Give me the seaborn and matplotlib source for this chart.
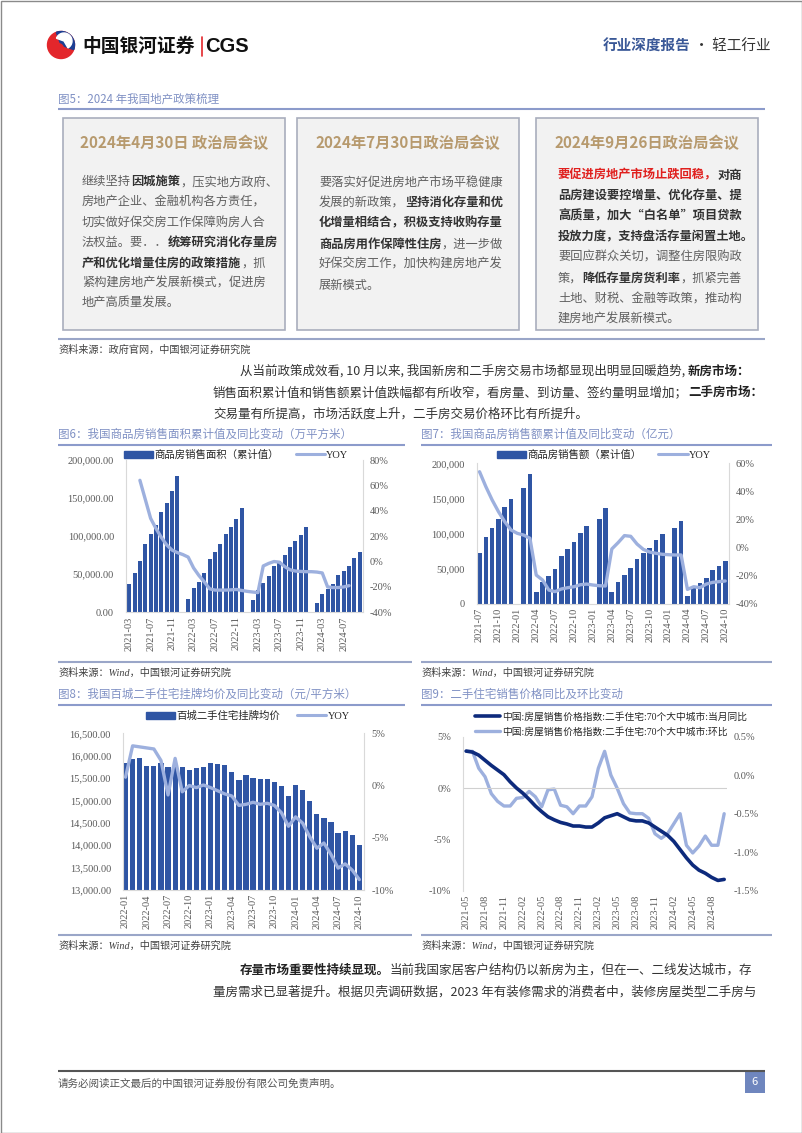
import numpy as np
import pandas as pd
import matplotlib
matplotlib.use('Agg')
import matplotlib.pyplot as plt
import seaborn as sns
from matplotlib.lines import Line2D
from matplotlib.patches import Patch, Rectangle, Circle, Wedge

CJK = 'Noto Sans CJK SC'
SERIF = ['Liberation Serif', CJK]

BAR = '#2F55A4'
LIGHT = '#9DB0DE'
NAVY = '#0D2A7C'
TICK = '#595959'
TITLE_C = '#8091C4'
RULE_C = '#8C9BCB'

# ---- 图6 商品房销售面积累计值 (万平方米) / 同比 (%) ----
months6 = [p.strftime('%Y-%m') for p in pd.period_range('2021-03', '2024-10', freq='M')]
area6 = [37200, 51200, 67400, 89300, 102400, 114700, 131300, 144000, 159300, 179400,
         np.nan, 17100, 32400, 40300, 52100, 70000, 79200, 89300, 102400, 112000, 122100, 136500,
         np.nan, 16200, 28900, 38900, 47700, 60800, 67800, 75300, 85300, 93200, 101100, 112500,
         np.nan, 12700, 24100, 30200, 37200, 48600, 54700, 61300, 71300, 78800]
yoy6 = [np.nan, np.nan,
        64, 49, 34, 26, 19, 13, 9, 7, 5.5, 3.5,
        -5, -11, -16, -21.5, -22.5, -22.5, -22.5, -22.3, -22, -22.8,
        -23.5, -24, -24.5, -3.5, -1.5, 0, -0.5, -4, -6.5, -7.5,
        -7.8, -8, -8, -8.3, -9, -20, -20.5, -20.5, -20, -19,
        np.nan, np.nan]

# ---- 图7 商品房销售额累计值 (亿元) / 同比 (%) ----
months7 = [p.strftime('%Y-%m') for p in pd.period_range('2021-07', '2024-10', freq='M')]
sales7 = [71700, 94500, 108300, 121100, 137300, 149600, np.nan,
          164400, 184800, 16200, 30400, 39000, 49900, 67900, 77400, 87400, 101200, 110600, np.nan,
          120200, 135900, 16200, 31400, 40900, 50800, 64100, 71700, 79800, 90700, 99300, np.nan,
          107400, 118300, 11400, 21900, 29000, 36600, 48000, 54200, 60800]
yoy7 = [54, 43.4, 33.9, 25.6, 18.4, 12.5, 10.1, 8.9, 6.6, -19.6,
        -23.1, -30.3, -31.4, -29.5, -28.6, -27.9, -26.5, -26, -26.7, -27.2,
        -27.4, -1, 3.5, 8.5, 8, 2.5, -1.3, -3.2, -4.1, -4.8,
        -5.1, -5.3, -5.3, -29.8, -27.9, -28.6, -26, -24.8, -24.3, -23.8]

# ---- 图8 百城二手住宅挂牌均价 (元/平方米) / 同比 (%) ----
months8 = [p.strftime('%Y-%m') for p in pd.period_range('2022-01', '2024-10', freq='M')]
price8 = [15845, 15919, 15949, 15763, 15763, 15837, 15755, 15745, 15740, 15681, 15725, 15740,
          15830, 15822, 15792, 15629, 15450, 15562, 15510, 15487, 15472, 15413, 15323, 15107,
          15346, 15227, 14996, 14690, 14609, 14519, 14281, 14318, 14236, 14013]
yoy8 = [0.8, 3.8, 3.7, 3.6, 3.5, 2.4, -0.9, 2.6, -0.6, 0.0, -0.2, 0.05,
        -0.2, -0.5, -0.8, -1.0, -1.9, -1.8, -1.6, -1.8, -1.7, -1.9, -2.6, -3.9,
        -3.0, -3.6, -4.9, -6.0, -5.5, -6.6, -7.9, -7.5, -8.1, -9.0]

# ---- 图9 二手住宅价格 同比 (%) / 环比 (%) ----
months9 = [p.strftime('%Y-%m') for p in pd.period_range('2021-05', '2024-10', freq='M')]
yoy9 = [3.6, 3.5, 3.2, 2.7, 2.2, 1.75, 1.3, 0.6, 0.0, -0.5,
        -1.1, -1.75, -2.3, -2.8, -3.1, -3.35, -3.5, -3.7, -3.7, -3.8,
        -3.8, -3.4, -2.9, -2.7, -2.5, -2.8, -3.1, -3.2, -3.2, -3.4,
        -3.8, -4.2, -4.6, -5.2, -6.0, -6.8, -7.5, -8.0, -8.3, -8.7,
        -9.0, -8.9]
mom9 = [0.31, 0.31, 0.09, -0.02, -0.24, -0.34, -0.40, -0.40, -0.30, -0.29,
        -0.21, -0.28, -0.41, -0.19, -0.18, -0.39, -0.41, -0.50, -0.40, -0.40,
        -0.28, 0.09, 0.31, 0.0, -0.17, -0.37, -0.49, -0.50, -0.50, -0.56,
        -0.76, -0.82, -0.76, -0.63, -0.50, -0.91, -1.01, -0.92, -0.79, -0.91,
        -0.91, -0.50]

# ---- 图5 政策梳理 文本 (n 普通, b 加粗, r 红色) ----
box_titles = ['2024年4月30日 政治局会议', '2024年7月30日政治局会议', '2024年9月26日政治局会议']
box_lines = [
    [[('继续坚持', 'n'), ('因城施策', 'b'), ('，压实地方政府、', 'n')],
     [('房地产企业、金融机构各方责任，', 'n')],
     [('切实做好保交房工作保障购房人合', 'n')],
     [('法权益。要．．', 'n'), ('统筹研究消化存量房', 'b')],
     [('产和优化增量住房的政策措施', 'b'), ('，抓', 'n')],
     [('紧构建房地产发展新模式，促进房', 'n')],
     [('地产高质量发展。', 'n')]],
    [[('要落实好促进房地产市场平稳健康', 'n')],
     [('发展的新政策，', 'n'), ('坚持消化存量和优', 'b')],
     [('化增量相结合，积极支持收购存量', 'b')],
     [('商品房用作保障性住房', 'b'), ('，进一步做', 'n')],
     [('好保交房工作，加快构建房地产发', 'n')],
     [('展新模式。', 'n')]],
    [[('要促进房地产市场止跌回稳，', 'r'), ('对商', 'b')],
     [('品房建设要控增量、优化存量、提', 'b')],
     [('高质量，加大“白名单”项目贷款', 'b')],
     [('投放力度，支持盘活存量闲置土地。', 'b')],
     [('要回应群众关切，调整住房限购政', 'n')],
     [('策，', 'n'), ('降低存量房货利率', 'b'), ('，抓紧完善', 'n')],
     [('土地、财税、金融等政策，推动构', 'n')],
     [('建房地产发展新模式。', 'n')]],
]
para1 = [
    [('从当前政策成效看, 10 月以来, 我国新房和二手房交易市场都显现出明显回暖趋势, ', 'p'), ('新房市场：', 'pb')],
    [('销售面积累计值和销售额累计值跌幅都有所收窄，看房量、到访量、签约量明显增加；', 'p'), ('二手房市场：', 'pb')],
    [('交易量有所提高，市场活跃度上升，二手房交易价格环比有所提升。', 'p')],
]
para2 = [
    [('存量市场重要性持续显现。', 'pb'), ('当前我国家居客户结构仍以新房为主，但在一、二线发达城市，存', 'p')],
    [('量房需求已显著提升。根据贝壳调研数据，2023 年有装修需求的消费者中，装修房屋类型二手房与', 'p')],
]

STYLES = {'n': ('#606060', 'normal'), 'b': ('#333333', 'bold'), 'r': ('#E0201E', 'bold'),
          'p': ('#333333', 'normal'), 'pb': ('#222222', 'bold')}

sns.set_theme(style='white')
plt.rcParams['font.family'] = [CJK, 'DejaVu Sans']
plt.rcParams['axes.unicode_minus'] = False

fig = plt.figure(figsize=(8.02, 11.33), dpi=100)
page = fig.add_axes([0, 0, 1, 1], zorder=0)
page.set_xlim(0, 802)
page.set_ylim(1133, 0)
page.axis('off')
rend = fig.canvas.get_renderer()


def rich(x, y, segs, size=9.0):
    for txt, kind in segs:
        color, weight = STYLES[kind]
        t = page.text(x, y, txt, fontsize=size, color=color, fontweight=weight, va='center', ha='left')
        x += t.get_window_extent(renderer=rend).width


def hrule(x0, x1, y, color=RULE_C, lw=1.5):
    page.plot([x0, x1], [y, y], color=color, lw=lw, solid_capstyle='butt')


def px_axes(x0, y0, x1, y1):
    return fig.add_axes([x0 / 802, 1 - y1 / 1133, (x1 - x0) / 802, (y1 - y0) / 1133], zorder=2)


# page frame
page.add_patch(Rectangle((0.5, 0.5), 801, 1132, fill=False, ec='#8a8a8a', lw=1))

# header logo
page.add_patch(Circle((61, 45), 13.5, color='#E3262B'))
page.add_patch(Wedge((61, 45), 13.5, 250, 20, color='#1D3F93'))
page.add_patch(Wedge((64, 41), 8, 200, 60, color='white'))
page.add_patch(Circle((58, 49), 5.5, color='#E3262B'))
page.text(82, 46, '中国银河证券', fontsize=13.5, fontweight='bold', color='#111111', va='center')
page.plot([201.5, 201.5], [37, 56], color='#E3262B', lw=1.2)
page.text(205, 46, 'CGS', fontsize=14.5, fontweight='bold', family='Liberation Sans', color='#111111', va='center')
t = page.text(603, 46, '行业深度报告', fontsize=10.5, fontweight='bold', color='#3A5897', va='center')
xx = 603 + t.get_window_extent(renderer=rend).width
page.text(xx, 46, ' · 轻工行业', fontsize=10.5, color='#333333', va='center')

# 图5
page.text(58, 99, '图5：2024 年我国地产政策梳理', fontsize=8.3, color=TITLE_C, va='center')
hrule(58, 765, 108.5)
boxes = [(63, 285, 82, 181.7, 20.3), (297, 519, 319, 182, 20.6), (536, 758, 558, 175, 20.6)]
for (bx0, bx1, tx, ty, dy), title, lines in zip(boxes, box_titles, box_lines):
    page.add_patch(Rectangle((bx0, 118), bx1 - bx0, 212, fc='#F2F2F2', ec='#A9AEBD', lw=1.2))
    page.text((bx0 + bx1) / 2, 143, title, fontsize=11, fontweight='bold', color='#B79A6E',
              ha='center', va='center')
    for i, segs in enumerate(lines):
        rich(tx, ty + i * dy, segs, size=8.8)
hrule(58, 765, 339, color='#9AA6C8', lw=1.5)
page.text(58, 350, '资料来源：政府官网，中国银河证券研究院', fontsize=7.3, color='#404040', va='center')

for i, segs in enumerate(para1):
    rich(240 if i == 0 else 213, 371 + i * 21.5, segs, size=9)


def finish(ax, ax2, xlim, left_ticks, left_fmt, right_ticks, right_fmt, shown, labels,
           left_lim, right_lim, bottom=True, right=True):
    ax.set_xlim(*xlim)
    ax.set_ylim(*left_lim)
    ax2.set_ylim(*right_lim)
    ax.set_yticks(left_ticks)
    ax.set_yticklabels([left_fmt(v) for v in left_ticks], family=SERIF, fontsize=7.5, color=TICK)
    ax2.set_yticks(right_ticks)
    ax2.set_yticklabels([right_fmt(v) for v in right_ticks], family=SERIF, fontsize=7.5, color=TICK)
    ax.set_xticks(shown)
    ax.set_xticklabels(labels, rotation=90, family=SERIF, fontsize=7.5, color=TICK)
    ax.tick_params(axis='y', length=0, pad=8.5)
    ax.tick_params(axis='x', length=0, pad=3)
    ax2.tick_params(axis='y', length=0, pad=5)
    ax.set_xlabel('')
    ax.set_ylabel('')
    ax2.set_ylabel('')
    ax.patch.set_alpha(0)
    for s in ['top', 'right']:
        ax.spines[s].set_visible(False)
    for s in ['top', 'left', 'bottom']:
        ax2.spines[s].set_visible(False)
    ax.spines['left'].set_color('#D9D9D9')
    ax.spines['bottom'].set_color('#D9D9D9')
    ax.spines['bottom'].set_visible(bottom)
    ax2.spines['right'].set_color('#D9D9D9')
    ax2.spines['right'].set_visible(right)
    for s in ax.spines.values():
        s.set_linewidth(0.8)
    ax2.spines['right'].set_linewidth(0.8)


def bar_legend(label, cx, cy):
    handles = [Patch(color=BAR), Line2D([], [], color=LIGHT, lw=2.2)]
    fig.legend(handles, [label, 'YOY'], loc='center', bbox_to_anchor=(cx / 802, 1 - cy / 1133),
               ncol=2, frameon=False, prop={'family': SERIF, 'size': 7.5}, handlelength=2.8,
               handleheight=0.75, handletextpad=0.15, columnspacing=1.6)


def chart_head(x0, x1, y, text):
    page.text(x0, y, text, fontsize=8.3, color=TITLE_C, va='center')
    hrule(x0, x1, y + 11)


def source(x0, x1, y):
    hrule(x0, x1, y, color='#9AA6C8', lw=1.5)
    page.text(x0, y + 11, '资料来源：Wind，中国银河证券研究院', fontsize=7.3, color='#404040',
              va='center', family=SERIF, style='italic')


pct = lambda v: f'{v:.0f}%'
bar_kw = dict(color=BAR, saturation=1, width=0.74, errorbar=None, linewidth=0)

# 图6
chart_head(58, 405, 434, '图6：我国商品房销售面积累计值及同比变动（万平方米）')
df6 = pd.DataFrame({'month': months6, 'area': area6, 'yoy': yoy6, 'pos': np.arange(len(months6))})
ax = px_axes(125.7, 460, 363, 612.3)
sns.barplot(data=df6, x='month', y='area', order=months6, ax=ax, **bar_kw)
ax2 = ax.twinx()
sns.lineplot(data=df6, x='pos', y='yoy', color=LIGHT, lw=2.4, ax=ax2)
sh = list(range(0, len(months6), 4))
finish(ax, ax2, (-0.65, 43.6), np.arange(0, 200001, 50000), lambda v: f'{v:,.2f}',
       np.arange(-40, 81, 20), pct, sh, [months6[i] for i in sh], (0, 200000), (-40, 80))
bar_legend('商品房销售面积（累计值）', 236, 455)
source(58, 412, 662)

# 图7
chart_head(421, 772, 434, '图7：我国商品房销售额累计值及同比变动（亿元）')
df7 = pd.DataFrame({'month': months7, 'sales': sales7, 'yoy': yoy7, 'pos': np.arange(len(months7))})
ax = px_axes(476.7, 463.3, 729, 603.7)
sns.barplot(data=df7, x='month', y='sales', order=months7, ax=ax, **bar_kw)
ax2 = ax.twinx()
sns.lineplot(data=df7, x='pos', y='yoy', color=LIGHT, lw=2.4, ax=ax2)
sh = list(range(0, len(months7), 3))
finish(ax, ax2, (-0.45, 39.6), np.arange(0, 200001, 50000), lambda v: f'{v:,.0f}',
       np.arange(-40, 61, 20), pct, sh, [months7[i] for i in sh], (0, 200000), (-40, 60))
bar_legend('商品房销售额（累计值）', 604, 455)
source(421, 772, 662)

# 图8
chart_head(58, 405, 694, '图8：我国百城二手住宅挂牌均价及同比变动（元/平方米）')
df8 = pd.DataFrame({'month': months8, 'price': price8, 'yoy': yoy8, 'pos': np.arange(len(months8))})
ax = px_axes(122.7, 733.3, 364.3, 890)
sns.barplot(data=df8, x='month', y='price', order=months8, ax=ax, **bar_kw)
ax2 = ax.twinx()
sns.lineplot(data=df8, x='pos', y='yoy', color=LIGHT, lw=2.4, ax=ax2)
sh = list(range(0, len(months8), 3))
finish(ax, ax2, (-0.4, 33.7), np.arange(13000, 16501, 500), lambda v: f'{v:,.2f}',
       np.arange(-10, 6, 5), pct, sh, [months8[i] for i in sh], (13000, 16500), (-10, 5))
bar_legend('百城二手住宅挂牌均价', 248, 716)
source(58, 412, 935)

# 图9
chart_head(421, 772, 694, '图9：二手住宅销售价格同比及环比变动')
df9 = pd.DataFrame({'month': months9, 'yoy': yoy9, 'mom': mom9, 'pos': np.arange(len(months9))})
ax = px_axes(462.7, 736.7, 726.7, 890.7)
ax.axhline(0, color='#D0D0D0', lw=0.8, zorder=0)
sns.lineplot(data=df9, x='pos', y='yoy', color=NAVY, lw=2.6, ax=ax, zorder=3)
ax2 = ax.twinx()
sns.lineplot(data=df9, x='pos', y='mom', color=LIGHT, lw=2.4, ax=ax2)
ax.set_zorder(3)
ax2.set_zorder(2)
sh = list(range(0, 40, 3))
finish(ax, ax2, (-0.55, 41.4), np.arange(-10, 6, 5), pct,
       np.arange(-1.5, 0.51, 0.5), lambda v: f'{v:.1f}%', sh, [months9[i] for i in sh],
       (-10, 5), (-1.5, 0.5), bottom=False, right=False)
handles = [Line2D([], [], color=NAVY, lw=2.6), Line2D([], [], color=LIGHT, lw=2.4)]
fig.legend(handles, ['中国:房屋销售价格指数:二手住宅:70个大中城市:当月同比',
                     '中国:房屋销售价格指数:二手住宅:70个大中城市:环比'],
           loc='center left', bbox_to_anchor=(466 / 802, 1 - 724 / 1133), frameon=False,
           prop={'family': SERIF, 'size': 7}, handlelength=2.6, handletextpad=0.2, labelspacing=0.5)
source(421, 772, 935)

for i, segs in enumerate(para2):
    rich(240 if i == 0 else 213, 970 + i * 22.5, segs, size=9)

# footer
hrule(58, 765, 1071, color='#555555', lw=1.5)
page.text(58, 1084, '请务必阅读正文最后的中国银河证券股份有限公司免责声明。', fontsize=7.6,
          color='#555555', va='center')
page.add_patch(Rectangle((745, 1071), 20, 22, fc='#6F86BE', ec='none'))
page.text(755, 1082, '6', fontsize=8, color='white', ha='center', va='center')

fig.savefig('out.png', dpi=100)
